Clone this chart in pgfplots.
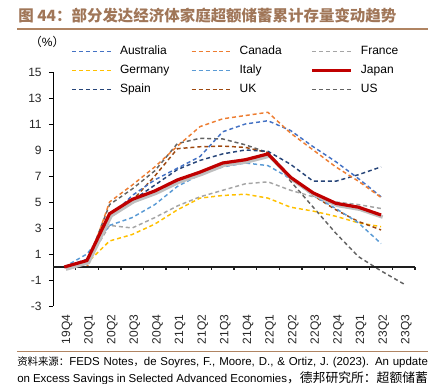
\documentclass[border=0pt]{standalone}
\usepackage{fontspec}
\setmainfont{Liberation Sans}
\newfontfamily\cjk{Noto Sans CJK SC}
\usepackage{pgfplots}
\pgfplotsset{compat=1.18}
\definecolor{cAus}{HTML}{4472C4}
\definecolor{cCan}{HTML}{ED7D31}
\definecolor{cFra}{HTML}{A5A5A5}
\definecolor{cGer}{HTML}{FFC000}
\definecolor{cIta}{HTML}{5B9BD5}
\definecolor{cJap}{HTML}{C00000}
\definecolor{cSpa}{HTML}{264478}
\definecolor{cUK}{HTML}{9E480E}
\definecolor{cUS}{HTML}{636363}
\definecolor{tbrown}{RGB}{160,118,88}
\definecolor{lbrown}{RGB}{176,132,98}
\definecolor{axgray}{RGB}{30,30,30}
\begin{document}
\begin{tikzpicture}
\useasboundingbox (0pt,0pt) rectangle (327pt,-288pt);
% title
\node[anchor=west, inner sep=0pt, text=tbrown, font=\cjk\bfseries\fontsize{11.6}{13}\selectfont] at (13.5pt,-11.5pt) {图 44：部分发达经济体家庭超额储蓄累计存量变动趋势};
\draw[lbrown, line width=1.1pt] (12.75pt,-21.75pt) -- (321pt,-21.75pt);
\node[anchor=center, inner sep=0pt, font=\fontsize{9}{10}\selectfont] at (35.5pt,-31.5pt) {{\cjk （}\%{\cjk ）}};
\begin{axis}[
  scale only axis, width=271.5pt, height=175.5pt,
  at={(39.75pt,-229.5pt)}, anchor=south west,
  xmin=-0.5, xmax=15.5, ymin=-3, ymax=15,
  axis y line*=left, axis x line*=bottom,
  x axis line style={draw=none},
  y axis line style={line width=0.7pt, black},
  ytick={-3,-1,...,15},
  xtick={0,...,15},
  xticklabels={19Q4,20Q1,20Q2,20Q3,20Q4,21Q1,21Q2,21Q3,21Q4,22Q1,22Q2,22Q3,22Q4,23Q1,23Q2,23Q3},
  x tick style={draw=none},
  tick align=outside, major tick length=3pt,
  y tick style={black, line width=0.7pt},
  tick label style={font=\fontsize{9}{10}\selectfont, text=black!85},
  xticklabel style={rotate=90, anchor=east, yshift=-2pt},
  yticklabel style={xshift=-2pt},
  /pgf/number format/assume math mode=true,
  clip=false,
  legend columns=3,
  legend style={draw=none, fill=none, at={(0.039,1.135)}, anchor=north west,
    font=\fontsize{9}{10}\selectfont, row sep=2.2pt,
    /tikz/every even column/.append style={column sep=0pt}},
  legend image code/.code={\draw[#1] (0pt,0pt) -- (28.9pt,0pt);},
]
% data
\addplot[cUS, line width=1.1pt, dash pattern=on 3pt off 2.2pt, forget plot] coordinates {(0,0)(1,0.3)(2,4.8)(3,6.0)(4,7.4)(5,9.5)(6,9.9)(7,9.85)(8,9.4)(9,8.8)(10,6.6)(11,4.6)(12,2.6)(13,0.8)(14,-0.3)(15,-1.3)};
\addplot[cFra, line width=1.1pt, dash pattern=on 3pt off 2.2pt, forget plot] coordinates {(0,0)(1,0.3)(2,3.2)(3,3.0)(4,3.8)(5,4.7)(6,5.4)(7,5.9)(8,6.4)(9,6.55)(10,5.9)(11,5.4)(12,5.0)(13,4.8)(14,4.5)};
\addplot[cGer, line width=1.1pt, dash pattern=on 3pt off 2.2pt, forget plot] coordinates {(0,0)(1,0.3)(2,2.0)(3,2.5)(4,3.3)(5,4.4)(6,5.3)(7,5.5)(8,5.6)(9,5.3)(10,4.6)(11,4.3)(12,3.9)(13,3.4)(14,3.1)};
\addplot[cUK, line width=1.1pt, dash pattern=on 3pt off 2.2pt, forget plot] coordinates {(0,0)(1,0)(2,3.8)(3,5.1)(4,7.0)(5,9.1)(6,9.25)(7,9.3)(8,9.2)(9,8.8)(10,6.9)(11,5.5)(12,4.4)(13,3.5)(14,2.85)};
\addplot[cIta, line width=1.1pt, dash pattern=on 3pt off 2.2pt, forget plot] coordinates {(0,0)(1,1.0)(2,3.2)(3,3.8)(4,4.8)(5,6.2)(6,7.1)(7,7.7)(8,8.0)(9,7.8)(10,6.8)(11,5.5)(12,4.5)(13,3.4)(14,1.8)};
\addplot[cSpa, line width=1.1pt, dash pattern=on 3pt off 2.2pt, forget plot] coordinates {(0,0)(1,0.4)(2,3.9)(3,5.1)(4,6.3)(5,7.5)(6,8.2)(7,8.7)(8,9.0)(9,8.9)(10,7.9)(11,6.6)(12,6.6)(13,7.1)(14,7.7)};
\addplot[cAus, line width=1.1pt, dash pattern=on 3pt off 2.2pt, forget plot] coordinates {(0,0)(1,0.6)(2,3.8)(3,5.5)(4,6.7)(5,7.6)(6,8.5)(7,10.4)(8,11.0)(9,11.25)(10,10.5)(11,9.25)(12,8.1)(13,6.8)(14,5.4)};
\addplot[cCan, line width=1.1pt, dash pattern=on 3pt off 2.2pt, forget plot] coordinates {(0,0)(1,0)(2,5.0)(3,6.3)(4,7.7)(5,9.3)(6,10.8)(7,11.4)(8,11.65)(9,11.9)(10,10.3)(11,9.0)(12,7.7)(13,6.6)(14,5.35)};
% x axis at zero with ticks between categories
\addplot[axgray, line width=1.1pt, solid, forget plot] coordinates {(-0.5,0)(15.5,0)};
\addplot[axgray, ycomb, line width=1pt, solid, forget plot, mark=none] coordinates {(0.5,-0.25)(1.5,-0.25)(2.5,-0.25)(3.5,-0.25)(4.5,-0.25)(5.5,-0.25)(6.5,-0.25)(7.5,-0.25)(8.5,-0.25)(9.5,-0.25)(10.5,-0.25)(11.5,-0.25)(12.5,-0.25)(13.5,-0.25)(14.5,-0.25)(15.5,-0.25)};
\addplot[black!25, solid, line width=2.6pt, forget plot, shift={(1.2pt,-1.6pt)}] coordinates {(0,0)(1,0.5)(2,4.1)(3,5.2)(4,5.85)(5,6.7)(6,7.3)(7,8.0)(8,8.25)(9,8.7)(10,6.9)(11,5.7)(12,4.9)(13,4.6)(14,4.0)};
\addplot[cJap, solid, line width=2.4pt, forget plot] coordinates {(0,0)(1,0.5)(2,4.1)(3,5.2)(4,5.85)(5,6.7)(6,7.3)(7,8.0)(8,8.25)(9,8.7)(10,6.9)(11,5.7)(12,4.9)(13,4.6)(14,4.0)};
% legend
\addlegendimage{cAus, line width=1.1pt, dash pattern=on 3pt off 2.2pt}\addlegendentry{\makebox[55.7pt][l]{\hspace{4.5pt}Australia}}
\addlegendimage{cCan, line width=1.1pt, dash pattern=on 3pt off 2.2pt}\addlegendentry{\makebox[55.7pt][l]{\hspace{4.5pt}Canada}}
\addlegendimage{cFra, line width=1.1pt, dash pattern=on 3pt off 2.2pt}\addlegendentry{\makebox[55.7pt][l]{\hspace{4.5pt}France}}
\addlegendimage{cGer, line width=1.1pt, dash pattern=on 3pt off 2.2pt}\addlegendentry{\makebox[55.7pt][l]{\hspace{4.5pt}Germany}}
\addlegendimage{cIta, line width=1.1pt, dash pattern=on 3pt off 2.2pt}\addlegendentry{\makebox[55.7pt][l]{\hspace{4.5pt}Italy}}
\addlegendimage{cJap, solid, line width=2.4pt}\addlegendentry{\makebox[55.7pt][l]{\hspace{4.5pt}Japan}}
\addlegendimage{cSpa, line width=1.1pt, dash pattern=on 3pt off 2.2pt}\addlegendentry{\makebox[55.7pt][l]{\hspace{4.5pt}Spain}}
\addlegendimage{cUK, line width=1.1pt, dash pattern=on 3pt off 2.2pt}\addlegendentry{\makebox[55.7pt][l]{\hspace{4.5pt}UK}}
\addlegendimage{cUS, line width=1.1pt, dash pattern=on 3pt off 2.2pt}\addlegendentry{\makebox[55.7pt][l]{\hspace{4.5pt}US}}
\end{axis}
% bottom
\draw[lbrown, line width=1.1pt] (12.75pt,-263.5pt) -- (321pt,-263.5pt);
\node[anchor=west, inner sep=0pt, font=\fontsize{8.6}{10}\selectfont] at (12.75pt,-271.5pt) {\makebox[308pt][s]{{\cjk\fontsize{7.8}{10}\selectfont 资料来源：}FEDS Notes{\cjk\fontsize{7.8}{10}\selectfont ，}de Soyres, F., Moore, D., \& Ortiz, J. (2023). An update}};
\node[anchor=west, inner sep=0pt, font=\fontsize{8.6}{10}\selectfont] at (12.75pt,-283.5pt) {\makebox[308pt][s]{on Excess Savings in Selected Advanced Economies{\cjk\fontsize{9.6}{10}\selectfont ，德邦研究所：超额储蓄}}};
\end{tikzpicture}
\end{document}
